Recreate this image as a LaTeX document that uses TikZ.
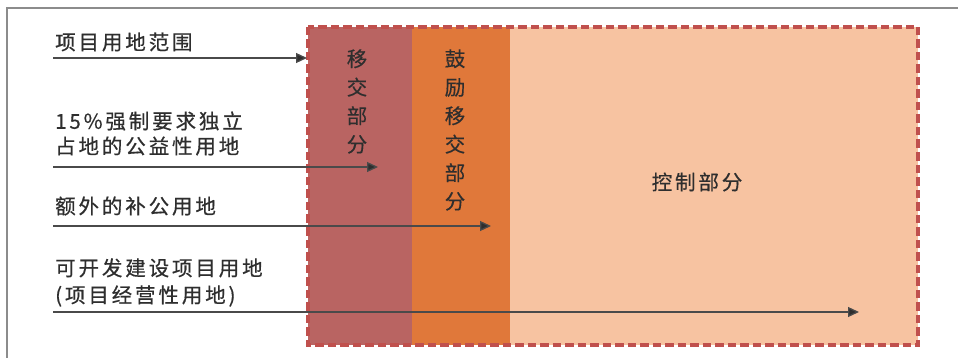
\documentclass[tikz,border=0pt]{standalone}
\usepackage{fontspec}
\newfontfamily\cjk[LetterSpace=14,FakeBold=0.5]{Noto Sans CJK SC}
\newfontfamily\cjkv[FakeBold=0.3]{Noto Sans CJK SC}
\usetikzlibrary{arrows.meta}
\definecolor{colA}{HTML}{B96462}
\definecolor{colB}{HTML}{E0783A}
\definecolor{colC}{HTML}{F7C3A1}
\definecolor{dashred}{HTML}{C0504D}
\definecolor{framegray}{HTML}{8C8C8C}
\definecolor{txt}{HTML}{2E2E2E}
\definecolor{arr}{HTML}{4A4A4A}
\begin{document}
\begin{tikzpicture}[x=1pt,y=-1pt,
  lbl/.style={anchor=west, inner sep=0pt, text=txt, align=left, font=\cjk\fontsize{20.5}{25}\selectfont},
  vlbl/.style={inner sep=0pt, text=txt, align=center, font=\cjkv\fontsize{20.5}{28.5}\selectfont},
  colbox/.style={anchor=north west, inner sep=0pt, minimum height=318pt},
  pointer/.style={draw=arr, line width=1.3pt, -{Triangle[length=11pt,width=10pt,fill=txt]}}]
\useasboundingbox (0,0) rectangle (958,358);
\fill[white] (0,0) rectangle (958,358);
\draw[framegray, line width=1.6pt] (7,358) -- (7,8) -- (958,8);
% columns
\node (c1) [colbox, fill=colA, minimum width=104pt] at (308,27) {};
\node (c2) [colbox, fill=colB, minimum width=98pt] at (412,27) {};
\node (c3) [colbox, fill=colC, minimum width=408pt] at (510,27) {};
\draw[dashred, line width=3.6pt, dash pattern=on 8.5pt off 4pt] (308,27) rectangle (918,345);
% column texts
\node (t1) [vlbl] at (357,101.5) {移\\交\\部\\分};
\node (t2) [vlbl] at (455,130) {鼓\\励\\移\\交\\部\\分};
\node (t3) [lbl, anchor=center] at (697,182) {控制部分};
% left labels
\node (l1) [lbl] at (55,42) {项目用地范围};
\node (l2) [lbl] at (55,133.5) {15\%强制要求独立\\占地的公益性用地};
\node (l3) [lbl] at (55,206) {额外的补公用地};
\node (l4) [lbl] at (55,282.5) {可开发建设项目用地\\[2pt](项目经营性用地)};
% arrows
\coordinate (a1s) at (53,58);  \coordinate (a1e) at (307,58);
\coordinate (a2s) at (53,167); \coordinate (a2e) at (378,167);
\coordinate (a3s) at (53,226); \coordinate (a3e) at (491,226);
\coordinate (a4s) at (53,312); \coordinate (a4e) at (859,312);
\draw[pointer] (a1s) -- (a1e);
\draw[pointer] (a2s) -- (a2e);
\draw[pointer] (a3s) -- (a3e);
\draw[pointer] (a4s) -- (a4e);
\end{tikzpicture}
\end{document}
